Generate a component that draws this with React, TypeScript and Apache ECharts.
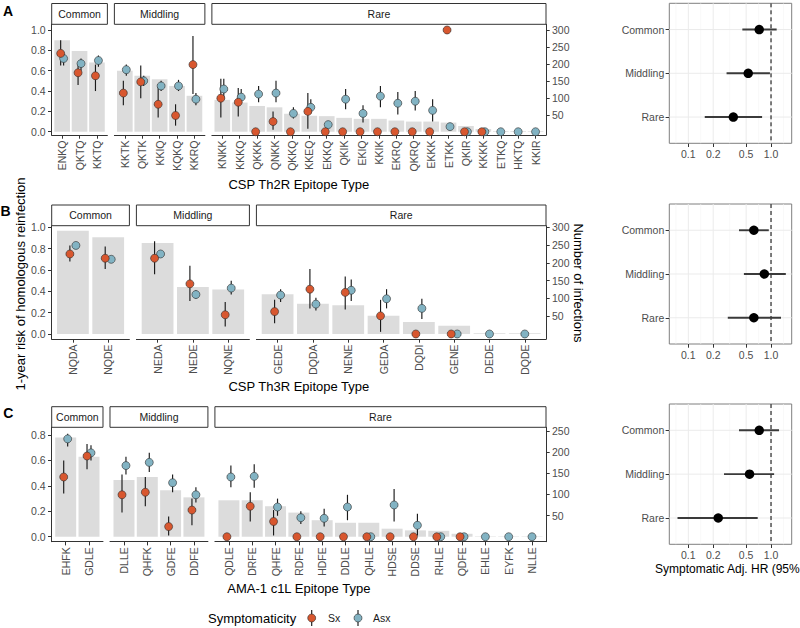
import React, { useEffect, useRef } from "react";
import * as echarts from "echarts";

const FONT = "'Liberation Sans', Arial, Helvetica, sans-serif";
const SX_COLOR = "#D8572F";
const ASX_COLOR = "#82B3C3";
const BAR_COLOR = "#DCDCDC";
const AXIS_COLOR = "#333333";
const TICK_TEXT = "#4D4D4D";
const N = null;

const groupNames = ["Sx", "Asx"];
const facetNames = ["Common", "Middling", "Rare"];
const COUNT_PER_UNIT = 300;

// ---------- Panel A : CSP Th2R ----------
const catsA = ["ENKQ", "QKTQ", "KKTQ", "KKTK", "QKTK", "KKIQ", "KQKQ", "KKRQ", "KNKK", "KKKQ", "QKKK", "QNKK", "QKKQ", "KKEQ", "EKKQ", "QKIK", "EKIQ", "KKIK", "EKRQ", "QKRQ", "EKKK", "ETKK", "QKIR", "KKKK", "ETKQ", "HKTQ", "KKIR"];
const facetSizesA = [3, 5, 19];
const countsA = [270, 238, 204, 180, 165, 155, 135, 106, 94, 86, 76, 72, 53, 47, 46, 41, 38, 38, 33, 30, 30, 27, 17, 8, 2, 2, 2];
const sxA = [0.77, 0.58, 0.55, 0.38, 0.49, 0.27, 0.16, 0.66, 0.33, 0.29, 0, 0.10, 0, 0.20, 0, 0, 0, 0, 0, 0, 0, 1.0, 0, 0, N, N, N];
const sxLoA = [0.65, 0.46, 0.40, 0.26, 0.33, 0.14, 0.06, 0.37, 0.14, 0.15, N, 0.02, N, 0.03, N, N, N, N, N, N, N, N, N, N, N, N, N];
const sxHiA = [0.90, 0.67, 0.66, 0.50, 0.65, 0.44, 0.27, 0.94, 0.52, 0.43, N, 0.20, N, 0.38, N, N, N, N, N, N, N, N, N, N, N, N, N];
const asxA = [0.72, 0.67, 0.70, 0.61, 0.50, 0.45, 0.45, 0.32, 0.42, 0.34, 0.37, 0.38, 0.18, 0.24, 0.07, 0.32, 0.18, 0.35, 0.28, 0.30, 0.21, 0.05, 0, 0, 0, 0, 0];
const asxLoA = [0.65, 0.60, 0.64, 0.55, 0.45, 0.40, 0.40, 0.26, 0.33, 0.28, 0.29, 0.29, 0.13, 0.18, 0.04, 0.22, 0.09, 0.24, 0.17, 0.21, 0.10, 0.02, N, N, N, N, N];
const asxHiA = [0.78, 0.72, 0.75, 0.66, 0.55, 0.50, 0.51, 0.38, 0.52, 0.42, 0.45, 0.50, 0.24, 0.32, 0.10, 0.42, 0.26, 0.45, 0.39, 0.40, 0.32, 0.08, N, N, N, N, N];

// ---------- Panel B : CSP Th3R ----------
const catsB = ["NQDA", "NQDE", "NEDA", "NEDE", "NQNE", "GEDE", "DQDA", "NENE", "GEDA", "DQDI", "GENE", "DEDE", "DQDE"];
const facetSizesB = [2, 3, 8];
const countsB = [290, 272, 256, 132, 125, 112, 85, 81, 51, 34, 23, 2, 2];
const sxB = [0.75, 0.71, 0.71, 0.47, 0.18, 0.21, 0.42, 0.39, 0.17, 0, 0, N, N];
const sxLoB = [0.68, 0.61, 0.56, 0.31, 0.07, 0.10, 0.24, 0.23, 0.02, N, N, N, N];
const sxHiB = [0.83, 0.82, 0.87, 0.64, 0.30, 0.32, 0.61, 0.54, 0.32, N, N, N, N];
const asxB = [0.83, 0.70, 0.75, 0.37, 0.43, 0.365, 0.28, 0.41, 0.33, 0.24, 0, 0, 0];
const asxLoB = [0.80, 0.68, 0.72, 0.33, 0.37, 0.30, 0.22, 0.31, 0.24, 0.14, N, N, N];
const asxHiB = [0.86, 0.73, 0.78, 0.41, 0.50, 0.42, 0.34, 0.51, 0.42, 0.33, N, N, N];

// ---------- Panel C : AMA-1 c1L ----------
const catsC = ["EHFK", "GDLE", "DLLE", "QHFK", "GDFE", "DDFE", "QDLE", "DRFE", "QHFE", "RDFE", "HDFE", "DDLE", "QHLE", "HDSE", "DDSE", "RHLE", "QDFE", "EHLE", "EYFK", "NLLE"];
const facetSizesC = [2, 4, 14];
const countsC = [234, 189, 134, 141, 110, 93, 86, 86, 72, 57, 39, 33, 33, 19, 15, 14, 7, 1, 1, 1];
const sxC = [0.47, 0.635, 0.33, 0.35, 0.08, 0.21, 0, 0.24, 0.12, 0, 0, 0, 0, 0, 0, 0, 0, N, N, N];
const sxLoC = [0.34, 0.53, 0.19, 0.24, 0.01, 0.09, N, 0.12, 0.01, N, N, N, N, N, N, N, N, N, N, N];
const sxHiC = [0.60, 0.73, 0.49, 0.47, 0.16, 0.30, N, 0.35, 0.21, N, N, N, N, N, N, N, N, N, N, N];
const asxC = [0.77, 0.66, 0.56, 0.585, 0.425, 0.33, 0.47, 0.475, 0.234, 0.15, 0.145, 0.234, 0, 0.25, 0.09, 0, 0, 0, 0, 0];
const asxLoC = [0.71, 0.60, 0.49, 0.51, 0.35, 0.27, 0.39, 0.385, 0.165, 0.10, 0.08, 0.13, N, 0.12, 0.01, N, N, N, N, N];
const asxHiC = [0.81, 0.72, 0.63, 0.66, 0.49, 0.39, 0.56, 0.57, 0.30, 0.20, 0.22, 0.33, N, 0.375, 0.18, N, N, N, N, N];

// ---------- tick labels ----------
const riskTicksAB = [0, 0.2, 0.4, 0.6, 0.8, 1.0];
const riskTicksC = [0, 0.2, 0.4, 0.6, 0.8];
const countTicksAB = [50, 100, 150, 200, 250, 300];
const countTicksC = [50, 100, 150, 200, 250];

// ---------- forest plots (Symptomatic adj. HR) ----------
const hrA = [0.72, 0.53, 0.35];
const hrLoA = [0.45, 0.29, 0.158];
const hrHiA = [1.17, 0.97, 0.78];
const hrB = [0.62, 0.83, 0.62];
const hrLoB = [0.41, 0.47, 0.30];
const hrHiB = [0.94, 1.51, 1.32];
const hrC = [0.72, 0.55, 0.23];
const hrLoC = [0.41, 0.27, 0.074];
const hrHiC = [1.25, 1.09, 0.69];
const hrBreaks = [0.1, 0.2, 0.5, 1.0];
const hrMinorLog = [-1.15, -0.85, -0.5, -0.15, 0.15];

// ---------- layout (pixels) ----------
const PANEL_X0 = 51.7;
const PANEL_X1 = 546;
const PANEL_GAP = 7;
const DODGE = 0.085;
const FOREST_X0 = 669.3;
const FOREST_X1 = 791.7;
const FOREST_LOG_MIN = -1.23;
const FOREST_LOG_MAX = 0.25;

const rows = [
  {
    letter: "A", cats: catsA, sizes: facetSizesA, counts: countsA,
    sx: sxA, sxLo: sxLoA, sxHi: sxHiA, asx: asxA, asxLo: asxLoA, asxHi: asxHiA,
    leftTicks: riskTicksAB, rightTicks: countTicksAB, xTitle: "CSP Th2R Epitope Type",
    hr: hrA, hrLo: hrLoA, hrHi: hrHiA,
    L: { stripTop: 3.5, panelTop: 24.3, panelBottom: 135, yMin: -0.032, yMax: 1.056, titleY: 184.5, letterX: 3, letterY: 10.5, forestTop: 3.3, forestBottom: 143.3 },
  },
  {
    letter: "B", cats: catsB, sizes: facetSizesB, counts: countsB,
    sx: sxB, sxLo: sxLoB, sxHi: sxHiB, asx: asxB, asxLo: asxLoB, asxHi: asxHiB,
    leftTicks: riskTicksAB, rightTicks: countTicksAB, xTitle: "CSP Th3R Epitope Type",
    hr: hrB, hrLo: hrLoB, hrHi: hrHiB,
    L: { stripTop: 205, panelTop: 225.7, panelBottom: 339, yMin: -0.047, yMax: 1.015, titleY: 386.7, letterX: 0.5, letterY: 210.5, forestTop: 204, forestBottom: 344 },
  },
  {
    letter: "C", cats: catsC, sizes: facetSizesC, counts: countsC,
    sx: sxC, sxLo: sxLoC, sxHi: sxHiC, asx: asxC, asxLo: asxLoC, asxHi: asxHiC,
    leftTicks: riskTicksC, rightTicks: countTicksC, xTitle: "AMA-1 c1L Epitope Type",
    hr: hrC, hrLo: hrLoC, hrHi: hrHiC,
    L: { stripTop: 406.7, panelTop: 427.3, panelBottom: 541.7, yMin: -0.039, yMax: 0.861, titleY: 588.3, letterX: 3.3, letterY: 412.5, forestTop: 404, forestBottom: 544.3 },
  },
];

const tickLabelStyle = { color: TICK_TEXT, fontSize: 10.5, fontFamily: FONT };

function renderBar(_p: any, api: any) {
  const i = api.value(0);
  const v = api.value(1);
  const a = api.coord([i - 0.45, v]);
  const b = api.coord([i + 0.45, 0]);
  return {
    type: "rect",
    shape: { x: a[0], y: a[1], width: b[0] - a[0], height: b[1] - a[1] },
    style: { fill: BAR_COLOR },
  };
}

function renderVErr(_p: any, api: any) {
  const x = api.value(0);
  const a = api.coord([x, api.value(1)]);
  const b = api.coord([x, api.value(2)]);
  return {
    type: "line",
    shape: { x1: a[0], y1: a[1], x2: b[0], y2: b[1] },
    style: { stroke: "#1a1a1a", lineWidth: 1.15 },
  };
}

function renderHErr(_p: any, api: any) {
  const r = api.value(2);
  const a = api.coord([api.value(0), r]);
  const b = api.coord([api.value(1), r]);
  return {
    type: "line",
    shape: { x1: a[0], y1: a[1], x2: b[0], y2: b[1] },
    style: { stroke: "#3a3a3a", lineWidth: 1.9 },
  };
}

function renderVGrid(_p: any, api: any) {
  const v = api.value(0);
  const major = api.value(1) === 1;
  const a = api.coord([v, 0.4]);
  const b = api.coord([v, 3.6]);
  return {
    type: "line",
    shape: { x1: a[0], y1: a[1], x2: b[0], y2: b[1] },
    style: { stroke: major ? "#EBEBEB" : "#F4F4F4", lineWidth: major ? 1 : 0.6 },
  };
}

function renderHGrid(_p: any, api: any) {
  const r = api.value(1);
  const a = api.coord([FOREST_LOG_MIN, r]);
  const b = api.coord([FOREST_LOG_MAX, r]);
  return {
    type: "line",
    shape: { x1: a[0], y1: a[1], x2: b[0], y2: b[1] },
    style: { stroke: "#EBEBEB", lineWidth: 1 },
  };
}

function renderDashed(_p: any, api: any) {
  const v = api.value(0);
  const a = api.coord([v, 0.4]);
  const b = api.coord([v, 3.6]);
  return {
    type: "line",
    shape: { x1: a[0], y1: a[1], x2: b[0], y2: b[1] },
    style: { stroke: "#000", lineWidth: 1, lineDash: [4, 3] },
  };
}

function buildOption() {
  const grid: any[] = [];
  const xAxis: any[] = [];
  const yAxis: any[] = [];
  const series: any[] = [];
  const graphic: any[] = [];

  rows.forEach((row) => {
    const L = row.L;
    const units = row.sizes.map((n) => n + 0.2);
    const totalUnits = units.reduce((a, b) => a + b, 0);
    const unitPx = (PANEL_X1 - PANEL_X0 - PANEL_GAP * (row.sizes.length - 1)) / totalUnits;
    let left = PANEL_X0;
    let start = 0;

    row.sizes.forEach((n, f) => {
      const width = units[f] * unitPx;
      const gi = grid.length;
      grid.push({
        left, top: L.panelTop, width, height: L.panelBottom - L.panelTop,
        containLabel: false, outerBoundsMode: "none",
      });
      const cats = row.cats.slice(start, start + n);
      const idx = cats.map((_, i) => i);
      const xi = xAxis.length;
      xAxis.push({
        type: "value", gridIndex: gi, position: "bottom", min: -0.6, max: n - 0.4,
        axisLine: { show: true, onZero: false, lineStyle: { color: AXIS_COLOR, width: 1 } },
        axisTick: { show: true, customValues: idx, length: 3.7, lineStyle: { color: AXIS_COLOR } },
        axisLabel: {
          show: true, customValues: idx, rotate: 90, margin: 5.5,
          formatter: (v: number) => cats[Math.round(v)] ?? "", ...tickLabelStyle,
        },
        splitLine: { show: false },
      });
      const yi = yAxis.length;
      yAxis.push({
        type: "value", gridIndex: gi, position: "left", min: L.yMin, max: L.yMax, show: f === 0,
        axisLine: { show: true, onZero: false, lineStyle: { color: AXIS_COLOR, width: 1 } },
        axisTick: { show: true, customValues: row.leftTicks, length: 3.7, lineStyle: { color: AXIS_COLOR } },
        axisLabel: {
          show: true, customValues: row.leftTicks, margin: 6,
          formatter: (v: number) => v.toFixed(1), ...tickLabelStyle,
        },
        splitLine: { show: false },
      });
      if (f === row.sizes.length - 1) {
        yAxis.push({
          type: "value", gridIndex: gi, position: "right",
          min: L.yMin * COUNT_PER_UNIT, max: L.yMax * COUNT_PER_UNIT,
          axisLine: { show: true, onZero: false, lineStyle: { color: AXIS_COLOR, width: 1 } },
          axisTick: { show: true, customValues: row.rightTicks, length: 3.7, lineStyle: { color: AXIS_COLOR } },
          axisLabel: {
            show: true, customValues: row.rightTicks, margin: 6,
            formatter: (v: number) => String(Math.round(v)), ...tickLabelStyle,
          },
          splitLine: { show: false },
        });
      }

      series.push({
        type: "custom", coordinateSystem: "cartesian2d", xAxisIndex: xi, yAxisIndex: yi,
        z: 1, silent: true, renderItem: renderBar,
        data: idx.map((i) => [i, row.counts[start + i] / COUNT_PER_UNIT]),
      });

      const errs: number[][] = [];
      const sxPts: number[][] = [];
      const asxPts: number[][] = [];
      idx.forEach((i) => {
        const g = start + i;
        const hasSx = row.sx[g] != null;
        const hasAsx = row.asx[g] != null;
        const d = hasSx && hasAsx ? DODGE : 0;
        if (hasSx) {
          sxPts.push([i - d, row.sx[g] as number]);
          if (row.sxLo[g] != null) errs.push([i - d, row.sxLo[g] as number, row.sxHi[g] as number]);
        }
        if (hasAsx) {
          asxPts.push([i + d, row.asx[g] as number]);
          if (row.asxLo[g] != null) errs.push([i + d, row.asxLo[g] as number, row.asxHi[g] as number]);
        }
      });
      series.push({
        type: "custom", coordinateSystem: "cartesian2d", xAxisIndex: xi, yAxisIndex: yi,
        z: 2, silent: true, renderItem: renderVErr, data: errs,
      });
      series.push({
        type: "scatter", name: groupNames[1], xAxisIndex: xi, yAxisIndex: yi, z: 3, silent: true, clip: false,
        symbolSize: 8, data: asxPts,
        itemStyle: { color: ASX_COLOR, borderColor: "#2b2b2b", borderWidth: 0.6, opacity: 1 },
      });
      series.push({
        type: "scatter", name: groupNames[0], xAxisIndex: xi, yAxisIndex: yi, z: 4, silent: true, clip: false,
        symbolSize: 8, data: sxPts,
        itemStyle: { color: SX_COLOR, borderColor: "#2b2b2b", borderWidth: 0.6, opacity: 1 },
      });

      graphic.push({
        type: "rect", silent: true,
        shape: { x: left, y: L.stripTop, width, height: L.panelTop - L.stripTop },
        style: { fill: "#fff", stroke: "#333", lineWidth: 1 },
      });
      graphic.push({
        type: "text", silent: true, x: left + width / 2, y: (L.stripTop + L.panelTop) / 2,
        style: { text: facetNames[f], fontSize: 10.5, fontFamily: FONT, fill: "#1a1a1a", align: "center", verticalAlign: "middle" },
      });

      left += width + PANEL_GAP;
      start += n;
    });

    // x title and letter
    graphic.push({
      type: "text", silent: true, x: (PANEL_X0 + PANEL_X1) / 2, y: L.titleY,
      style: { text: row.xTitle, fontSize: 13, fontFamily: FONT, fill: "#000", align: "center", verticalAlign: "middle" },
    });
    graphic.push({
      type: "text", silent: true, x: L.letterX, y: L.letterY,
      style: { text: row.letter, fontSize: 14, fontWeight: "bold", fontFamily: FONT, fill: "#000", align: "left", verticalAlign: "middle" },
    });

    // ---- forest plot ----
    const fgi = grid.length;
    grid.push({
      left: FOREST_X0, top: L.forestTop, width: FOREST_X1 - FOREST_X0, height: L.forestBottom - L.forestTop,
      show: true, borderColor: "#7F7F7F", borderWidth: 1, backgroundColor: "rgba(0,0,0,0)",
      containLabel: false, outerBoundsMode: "none",
    });
    const fxi = xAxis.length;
    const logBreaks = hrBreaks.map((b) => Math.log10(b));
    xAxis.push({
      type: "value", gridIndex: fgi, position: "bottom", min: FOREST_LOG_MIN, max: FOREST_LOG_MAX,
      axisLine: { show: false, onZero: false },
      axisTick: { show: true, customValues: logBreaks, length: 3.7, lineStyle: { color: AXIS_COLOR } },
      axisLabel: {
        show: true, customValues: logBreaks, margin: 5,
        formatter: (v: number) => Math.pow(10, v).toFixed(1), ...tickLabelStyle,
      },
      splitLine: { show: false },
    });
    const fyi = yAxis.length;
    yAxis.push({
      type: "value", gridIndex: fgi, position: "left", min: 0.4, max: 3.6, inverse: true,
      axisLine: { show: false, onZero: false },
      axisTick: { show: true, customValues: [1, 2, 3], length: 3.7, lineStyle: { color: AXIS_COLOR } },
      axisLabel: {
        show: true, customValues: [1, 2, 3], margin: 5,
        formatter: (v: number) => facetNames[Math.round(v) - 1] ?? "", ...tickLabelStyle,
      },
      splitLine: { show: false },
    });
    series.push({
      type: "custom", coordinateSystem: "cartesian2d", xAxisIndex: fxi, yAxisIndex: fyi, z: 1, silent: true,
      renderItem: renderVGrid,
      data: [...hrMinorLog.map((v) => [v, 0]), ...logBreaks.map((v) => [v, 1])],
    });
    series.push({
      type: "custom", coordinateSystem: "cartesian2d", xAxisIndex: fxi, yAxisIndex: fyi, z: 1, silent: true,
      renderItem: renderHGrid,
      data: facetNames.map((_, k) => [0, k + 1]),
    });
    series.push({
      type: "custom", coordinateSystem: "cartesian2d", xAxisIndex: fxi, yAxisIndex: fyi, z: 2, silent: true,
      renderItem: renderDashed, data: [[Math.log10(1), 1]],
    });
    series.push({
      type: "custom", coordinateSystem: "cartesian2d", xAxisIndex: fxi, yAxisIndex: fyi, z: 3, silent: true,
      renderItem: renderHErr,
      data: row.hr.map((_, k) => [Math.log10(row.hrLo[k]), Math.log10(row.hrHi[k]), k + 1]),
    });
    series.push({
      type: "scatter", xAxisIndex: fxi, yAxisIndex: fyi, z: 4, silent: true, clip: false, symbolSize: 9.5,
      itemStyle: { color: "#000", opacity: 1 },
      data: row.hr.map((h, k) => [Math.log10(h), k + 1]),
    });
  });

  // axis titles
  graphic.push({
    type: "text", silent: true, x: 20.5, y: 284, rotation: Math.PI / 2,
    style: { text: "1-year risk of homologous reinfection", fontSize: 13, fontFamily: FONT, fill: "#000", align: "center", verticalAlign: "middle" },
  });
  graphic.push({
    type: "text", silent: true, x: 578, y: 283, rotation: -Math.PI / 2,
    style: { text: "Number of infections", fontSize: 13, fontFamily: FONT, fill: "#000", align: "center", verticalAlign: "middle" },
  });
  graphic.push({
    type: "text", silent: true, x: 655, y: 569,
    style: { text: "Symptomatic Adj. HR (95% CI)", fontSize: 12, fontFamily: FONT, fill: "#000", align: "left", verticalAlign: "middle" },
  });

  // legend
  const legendY = 618;
  graphic.push({
    type: "text", silent: true, x: 208, y: legendY,
    style: { text: "Symptomaticity", fontSize: 13, fontFamily: FONT, fill: "#000", align: "left", verticalAlign: "middle" },
  });
  const legendItems = [
    { name: groupNames[0], color: SX_COLOR, cx: 311.7, tx: 328 },
    { name: groupNames[1], color: ASX_COLOR, cx: 358, tx: 373 },
  ];
  legendItems.forEach((it) => {
    graphic.push({
      type: "line", silent: true,
      shape: { x1: it.cx, y1: legendY - 8, x2: it.cx, y2: legendY + 8 },
      style: { stroke: "#1a1a1a", lineWidth: 1.15 },
    });
    graphic.push({
      type: "circle", silent: true,
      shape: { cx: it.cx, cy: legendY, r: 4 },
      style: { fill: it.color, stroke: "#2b2b2b", lineWidth: 0.6 },
    });
    graphic.push({
      type: "text", silent: true, x: it.tx, y: legendY,
      style: { text: it.name, fontSize: 10.5, fontFamily: FONT, fill: "#1a1a1a", align: "left", verticalAlign: "middle" },
    });
  });

  return {
    animation: false,
    backgroundColor: "#ffffff",
    textStyle: { fontFamily: FONT },
    tooltip: { show: false },
    grid, xAxis, yAxis, series, graphic,
  };
}

export default function App() {
  const ref = useRef<HTMLDivElement>(null);
  useEffect(() => {
    document.body.style.margin = "0";
    const chart = echarts.init(ref.current as HTMLDivElement, null, { renderer: "svg" });
    chart.setOption(buildOption() as any);
    return () => chart.dispose();
  }, []);
  return <div ref={ref} style={{ width: 800, height: 628 }} />;
}
